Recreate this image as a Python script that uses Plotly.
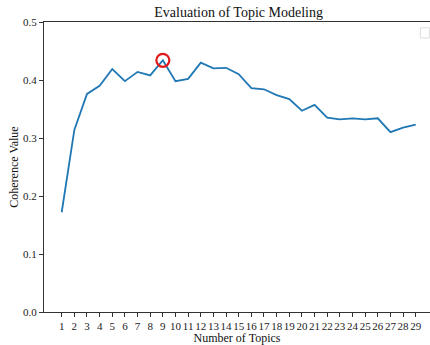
import plotly.graph_objects as go

topics = list(range(1, 30))
coherence = [0.172, 0.314, 0.376, 0.390, 0.419, 0.398, 0.414, 0.408, 0.434, 0.398,
             0.402, 0.430, 0.420, 0.421, 0.410, 0.386, 0.384, 0.374, 0.367, 0.347,
             0.357, 0.335, 0.332, 0.334, 0.332, 0.334, 0.310, 0.318, 0.323]
best_topic = [9]
best_value = [0.434]
yticks = [0.0, 0.1, 0.2, 0.3, 0.4, 0.5]

FONT = "Liberation Serif"

fig = go.Figure()
fig.add_trace(go.Scatter(x=topics, y=coherence, mode="lines",
                         line=dict(color="#1f77b4", width=1.8), showlegend=False))
fig.add_trace(go.Scatter(x=best_topic, y=best_value, mode="markers",
                         marker=dict(symbol="circle-open", size=13, color="#e31a1c",
                                     line=dict(width=2.2, color="#e31a1c")),
                         showlegend=False))

fig.update_layout(
    width=430, height=345,
    margin=dict(l=44, r=0, t=22, b=33, autoexpand=False),
    paper_bgcolor="white", plot_bgcolor="white",
    font=dict(family=FONT, size=11, color="#222"),
    title=dict(text="Evaluation of Topic Modeling", x=0.555, xanchor="center",
               y=0.965, yref="container", yanchor="middle",
               font=dict(family=FONT, size=14, color="#111")),
    xaxis=dict(range=[-0.4, 30.13], tickmode="array", tickvals=topics,
               ticktext=[str(t) for t in topics], showgrid=False, zeroline=False,
               showline=True, linecolor="#333", linewidth=1, mirror=True,
               ticks="outside", ticklen=4, tickcolor="#333", automargin=False,
               tickangle=0,
               title=dict(text="Number of Topics", standoff=2,
                          font=dict(family=FONT, size=12, color="#111")),
               tickfont=dict(family=FONT, size=11, color="#222")),
    yaxis=dict(range=[0, 0.5], tickmode="array", tickvals=yticks,
               ticktext=[f"{v:.1f}" for v in yticks], showgrid=False, zeroline=False,
               showline=True, linecolor="#333", linewidth=1,
               ticks="outside", ticklen=4, tickcolor="#333", automargin=False,
               title=dict(text="Coherence Value", standoff=1,
                          font=dict(family=FONT, size=12, color="#111")),
               tickfont=dict(family=FONT, size=11, color="#222")),
)

# empty legend frame (top-right), as in the reference
fig.add_shape(type="rect", xref="paper", yref="paper",
              x0=0.975, x1=0.999, y0=0.945, y1=0.98,
              line=dict(color="#dddddd", width=1), fillcolor="white")

fig.write_html("out.html", config={"displayModeBar": False},
               post_script="document.body.style.margin='0';")
